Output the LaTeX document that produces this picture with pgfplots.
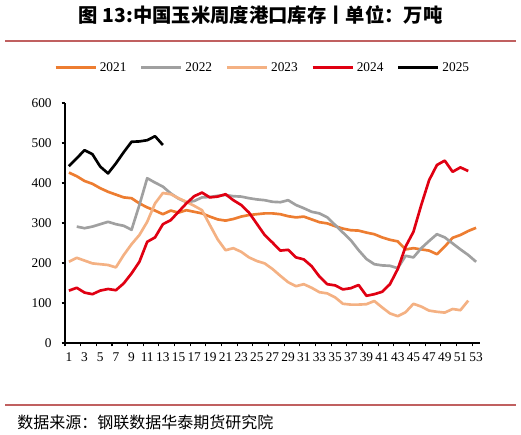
\documentclass[border=0pt]{standalone}
\usepackage{pgfplots}
\pgfplotsset{compat=1.18}
\usepackage{fontspec}
\setmainfont{Liberation Serif}
\newfontfamily\cjk{Noto Sans CJK SC}
\definecolor{c21}{HTML}{ED7D31}
\definecolor{c22}{HTML}{A0A0A0}
\definecolor{c23}{HTML}{F4B183}
\definecolor{c24}{RGB}{224,0,18}
\definecolor{c25}{RGB}{0,0,0}
\definecolor{rule}{RGB}{192,96,96}
\begin{document}
\begin{tikzpicture}[x=1pt,y=1pt]
\path[use as bounding box] (0,0) rectangle (390.75,326.25);
\node[font=\cjk\bfseries\fontsize{14.5}{16}\selectfont] at (195.5,315) {图 13:中国玉米周度港口库存丨单位：万吨};
\draw[line width=1.5pt, color=rule] (3.75,295.5) -- (387,295.5);
\draw[line width=1.5pt, color=rule] (3.75,22.5) -- (387,22.5);
\node[anchor=west, font=\cjk\fontsize{12}{14}\selectfont] at (9.5,9.75) {数据来源：钢联数据华泰期货研究院};
\begin{axis}[
  at={(48.75pt,69pt)}, anchor=south west, scale only axis,
  width=311.25pt, height=180pt,
  xmin=0.5, xmax=53.5, ymin=0, ymax=600,
  axis x line*=bottom, axis y line*=left,
  axis line style={-, black, line width=0.8pt},
  tick style={black, line width=0.8pt},
  tick align=outside,
  major tick length=2.5pt, minor tick length=2.5pt,
  ytick={0,100,...,600},
  xtick={1,3,...,53},
  minor xtick={0.5,2.5,...,52.5},
  major x tick style={draw=none},
  /pgf/number format/assume math mode=true,
  ticklabel style={font=\fontsize{10}{12}\selectfont},
  yticklabel style={xshift=-4pt},
  xticklabel style={yshift=-1pt, inner xsep=0pt},
  legend columns=5,
  legend style={at={(0.477,1.146)}, anchor=center, draw=none, fill=none,
    font=\fontsize{10}{12}\selectfont,
    /tikz/every odd column/.append style={column sep=0pt},
    /tikz/every even column/.append style={column sep=8pt}},
  legend image code/.code={\draw[#1, line width=2.25pt] (0pt,0pt) -- (30pt,0pt);},
  every axis plot/.append style={line width=2pt, line join=round},
]
\addplot[c21] coordinates {
(1,426)(2,417)(3,405)(4,398)(5,387)(6,378)(7,371)(8,364)(9,362)(10,349)
(11,339)(12,331)(13,322)(14,331)(15,326)(16,332)(17,328)(18,324)(19,316)(20,309)
(21,306)(22,310)(23,316)(24,320)(25,322)(26,324)(27,324)(28,322)(29,317)(30,314)
(31,316)(32,309)(33,302)(34,299)(35,292)(36,286)(37,282)(38,281)(39,276)(40,272)
(41,264)(42,258)(43,254)(44,234)(45,237)(46,234)(47,231)(48,222)(49,241)(50,263)
(51,270)(52,280)(53,288)};
\addlegendentry{2021}
\addplot[c22] coordinates {
(2,291)(3,287)(4,291)(5,297)(6,303)(7,297)(8,293)(9,283)(10,345)
(11,412)(12,401)(13,391)(14,374)(15,361)(16,352)(17,355)(18,364)(19,365)(20,368)
(21,370)(22,367)(23,366)(24,362)(25,359)(26,357)(27,353)(28,352)(29,357)(30,345)
(31,337)(32,328)(33,324)(34,314)(35,295)(36,276)(37,257)(38,232)(39,210)(40,197)
(41,194)(42,193)(43,187)(44,218)(45,214)(46,237)(47,255)(48,272)(49,264)(50,249)
(51,234)(52,220)(53,203)};
\addlegendentry{2022}
\addplot[c23] coordinates {
(1,203)(2,213)(3,206)(4,199)(5,197)(6,195)(7,189)(8,220)(9,247)(10,270)
(11,303)(12,349)(13,375)(14,372)(15,362)(16,353)(17,343)(18,332)(19,295)(20,259)
(21,232)(22,237)(23,228)(24,214)(25,205)(26,199)(27,185)(28,168)(29,152)(30,142)
(31,147)(32,138)(33,127)(34,124)(35,114)(36,98)(37,96)(38,96)(39,97)(40,105)
(41,89)(42,74)(43,67)(44,77)(45,98)(46,91)(47,81)(48,78)(49,76)(50,85)
(51,82)(52,106)};
\addlegendentry{2023}
\addplot[c24] coordinates {
(1,131)(2,138)(3,126)(4,122)(5,131)(6,135)(7,132)(8,149)(9,174)(10,203)
(11,253)(12,264)(13,297)(14,307)(15,328)(16,349)(17,367)(18,376)(19,364)(20,366)
(21,372)(22,357)(23,345)(24,326)(25,298)(26,270)(27,251)(28,231)(29,233)(30,214)
(31,209)(32,192)(33,166)(34,147)(35,144)(36,134)(37,137)(38,145)(39,118)(40,122)
(41,128)(42,147)(43,185)(44,241)(45,278)(46,345)(47,407)(48,445)(49,456)(50,428)
(51,439)(52,430)};
\addlegendentry{2024}
\addplot[c25] coordinates {
(1,442)(2,462)(3,482)(4,472)(5,441)(6,424)(7,449)(8,477)(9,503)(10,504)
(11,507)(12,517)(13,495)};
\addlegendentry{2025}
\end{axis}
\end{tikzpicture}
\end{document}
